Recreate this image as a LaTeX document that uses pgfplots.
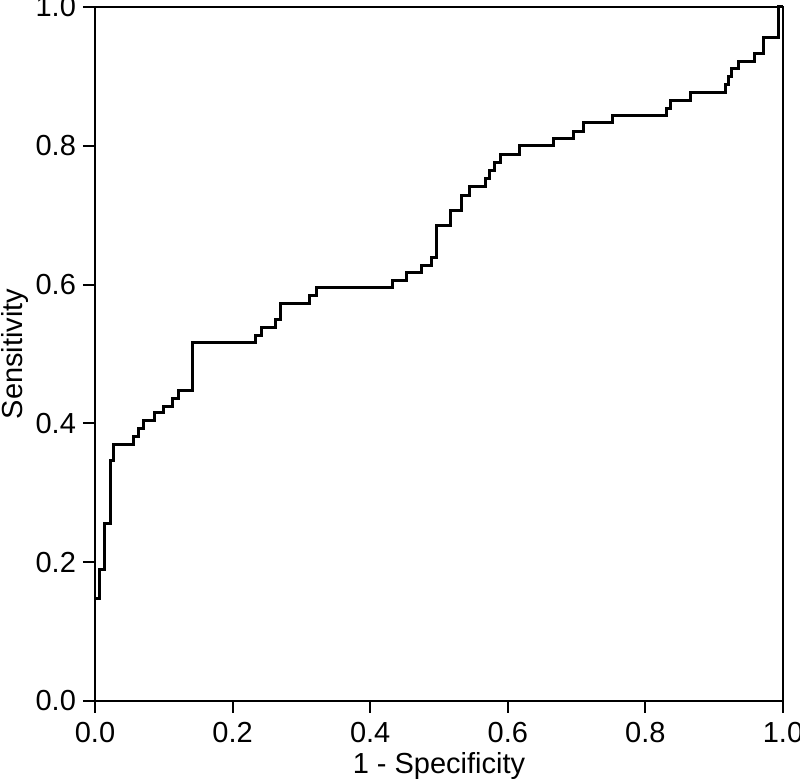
\documentclass[border=0pt]{standalone}
\usepackage{fontspec}
\setmainfont{Liberation Sans}
\usepackage{pgfplots}
\pgfplotsset{compat=1.18}

\begin{document}
\begin{tikzpicture}
\begin{axis}[
  scale only axis, clip=false,
  width=344pt, height=347pt,
  xmin=0, xmax=1, ymin=0, ymax=1,
  xtick={0,0.2,0.4,0.6,0.8,1.0}, ytick={0,0.2,0.4,0.6,0.8,1.0},
  xtick pos=bottom, ytick pos=left,
  tick align=outside, major tick length=6pt,
  every tick/.append style={black, line width=1pt},
  axis line style={line width=0.9pt},
  xticklabels={0.0,0.2,0.4,0.6,0.8,1.0},
  yticklabels={0.0,0.2,0.4,0.6,0.8,1.0},
  ticklabel style={font=\fontsize{14.5}{16}\selectfont},
  xticklabel style={yshift=-1pt},
  label style={font=\fontsize{14.5}{16}\selectfont},
  xlabel={1 - Specificity}, ylabel={Sensitivity},
  xlabel style={at={(axis description cs:0.5,-0.0937)}, anchor=center},
  ylabel style={at={(axis description cs:-0.1163,0.5)}, anchor=center},
]
\addplot[const plot, black, line width=1.5pt] coordinates {
  (0.002,0.148) (0.007,0.189) (0.0145,0.256) (0.023,0.347) (0.027,0.369)
  (0.056,0.381) (0.063,0.392) (0.071,0.404) (0.086,0.415) (0.099,0.425)
  (0.113,0.436) (0.121,0.448) (0.142,0.516) (0.234,0.527) (0.242,0.538)
  (0.263,0.550) (0.269,0.573) (0.3125,0.584) (0.322,0.596) (0.433,0.606)
  (0.453,0.617) (0.475,0.628) (0.489,0.639) (0.4965,0.685) (0.517,0.707)
  (0.532,0.729) (0.545,0.741) (0.568,0.753) (0.574,0.764) (0.581,0.776)
  (0.589,0.788) (0.617,0.800) (0.667,0.811) (0.696,0.821) (0.710,0.833)
  (0.752,0.844) (0.831,0.854) (0.837,0.865) (0.866,0.877) (0.916,0.888)
  (0.921,0.900) (0.925,0.911) (0.935,0.922) (0.958,0.933) (0.971,0.956)
  (0.994,1.0) (1.0,1.0)};
% tick marks drawn explicitly as well
\pgfplotsinvokeforeach{0,0.2,0.4,0.6,0.8,1.0}{
  \draw[black, line width=1pt] (axis cs:#1,0) -- ++(0,-6pt);
  \draw[black, line width=1pt] (axis cs:0,#1) -- ++(-6pt,0);
}
\end{axis}
\pgfresetboundingbox
\useasboundingbox (-47.5pt,-39.5pt) rectangle (352.5pt,350.5pt);
\end{tikzpicture}
\end{document}
